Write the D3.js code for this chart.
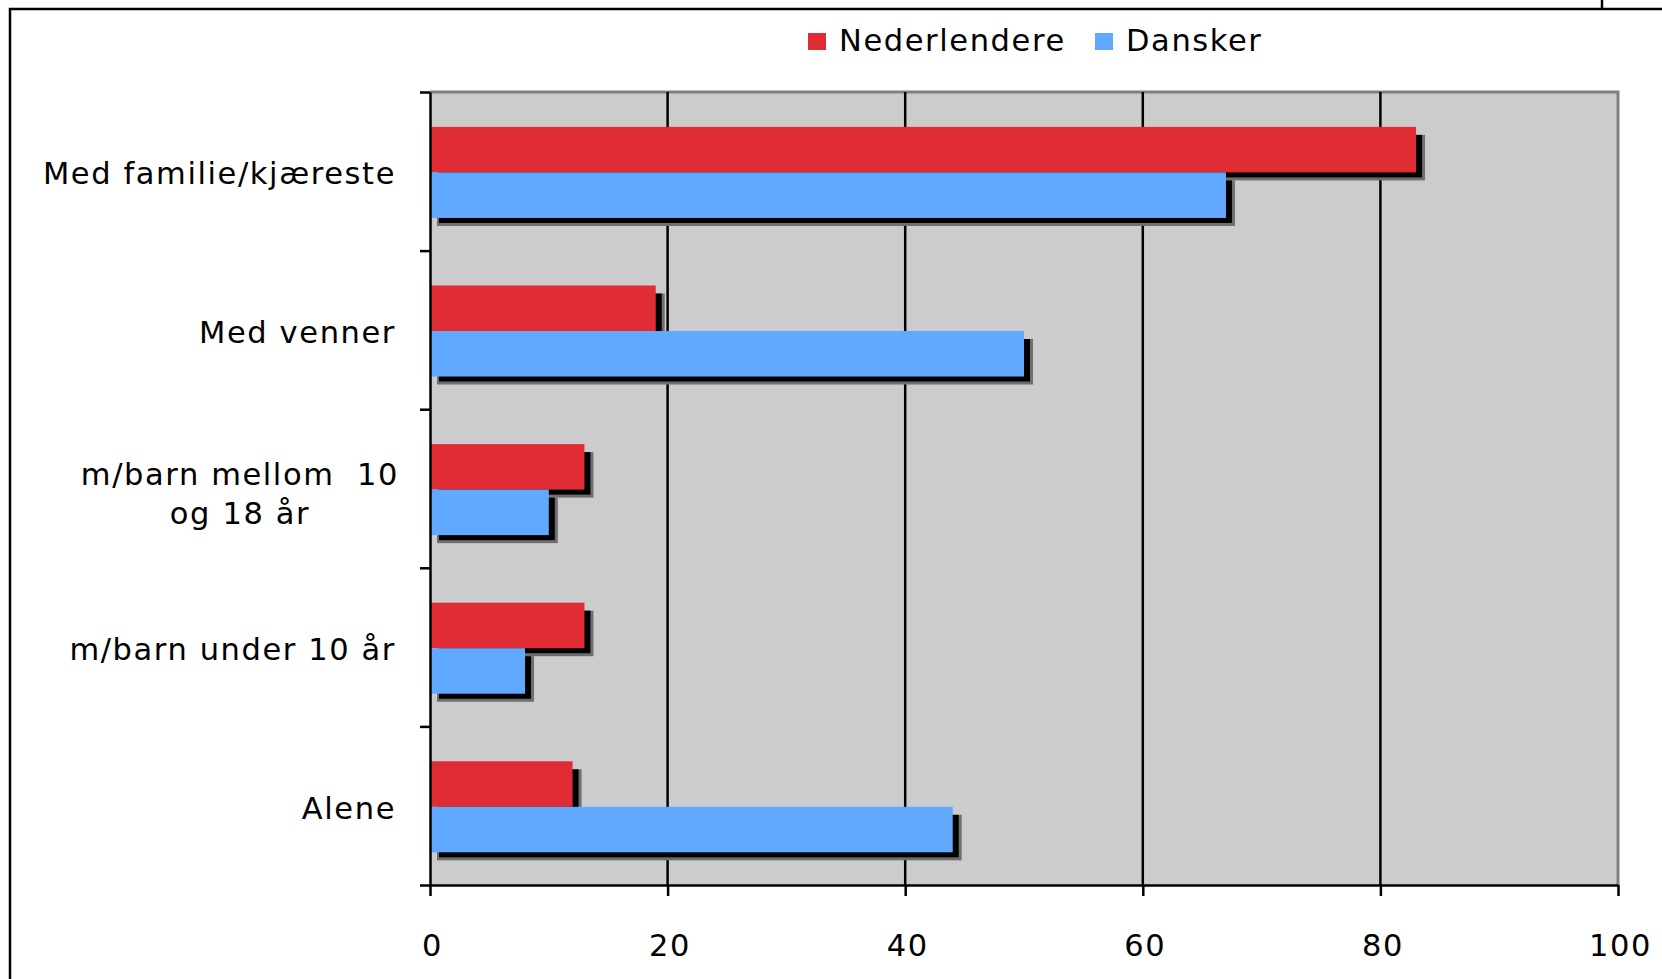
<!DOCTYPE html>
<html>
<head>
<meta charset="utf-8">
<script src="https://cdn.jsdelivr.net/npm/d3@7"></script>
<style>
  html, body { margin: 0; padding: 0; background: #fff; }
  svg { display: block; }
  text { font-family: "DejaVu Sans", Verdana, sans-serif; font-size: 30.5px; letter-spacing: 1.6px; fill: #000; }
</style>
</head>
<body>
<svg id="chart" width="1662" height="979"></svg>
<script>
// Who people travel with: share of respondents (%)
const categories = [
  "Med familie/kjæreste",
  "Med venner",
  "m/barn mellom  10\nog 18 år",
  "m/barn under 10 år",
  "Alene"
];
const seriesNames = ["Nederlendere", "Dansker"];
const nederlendere = [83, 19, 13, 13, 12];
const dansker = [67, 50, 10, 8, 44];
const xTicks = [0, 20, 40, 60, 80, 100];
const colors = ["#e02d35", "#61a8ff"];

const seriesValues = [nederlendere, dansker];

const svg = d3.select("#chart");

// outer frame
svg.append("path")
  .attr("d", "M10,985 L10,9 L1670,9")
  .attr("fill", "none").attr("stroke", "#000").attr("stroke-width", 2.5);
svg.append("line")
  .attr("x1", 1602).attr("x2", 1602).attr("y1", 0).attr("y2", 9)
  .attr("stroke", "#000").attr("stroke-width", 2.5);

const plot = { left: 430, right: 1618, top: 92, bottom: 885 };

const x = d3.scaleLinear().domain([0, 100]).range([plot.left, plot.right]);
const y = d3.scaleBand().domain(categories).range([plot.top, plot.bottom]).padding(0);
const bw = y.bandwidth();
const inner = d3.scaleBand().domain(seriesNames)
  .range([bw * 0.22, bw * 0.22 + bw * 0.574]).padding(0);
const bh = inner.bandwidth();

// plot background
svg.append("rect")
  .attr("x", plot.left).attr("y", plot.top)
  .attr("width", plot.right - plot.left).attr("height", plot.bottom - plot.top)
  .attr("fill", "#cccccc");
svg.append("path")
  .attr("d", `M${plot.left},${plot.top} L${plot.right},${plot.top} L${plot.right},${plot.bottom}`)
  .attr("fill", "none").attr("stroke", "#808080").attr("stroke-width", 3);

// vertical gridlines
svg.append("g").selectAll("line")
  .data(xTicks.filter(d => d > 0 && d < 100))
  .join("line")
  .attr("x1", d => x(d)).attr("x2", d => x(d))
  .attr("y1", plot.top).attr("y2", plot.bottom)
  .attr("stroke", "#000").attr("stroke-width", 2.5);

// bars with drop shadows
const barsG = svg.append("g");
categories.forEach((cat, ci) => {
  seriesNames.forEach((s, si) => {
    const v = seriesValues[si][ci];
    const bx = x(0);
    const by = y(cat) + inner(s);
    const w = x(v) - x(0);
    barsG.append("rect")
      .attr("x", bx + 7).attr("y", by + 8).attr("width", w + 2).attr("height", bh)
      .attr("fill", "#6e6e6e");
    barsG.append("rect")
      .attr("x", bx + 9).attr("y", by + 8).attr("width", w - 3).attr("height", bh - 3)
      .attr("fill", "#000");
    barsG.append("rect")
      .attr("x", bx).attr("y", by).attr("width", w).attr("height", bh)
      .attr("fill", colors[si]);
  });
});

// left axis: ticks at category boundaries
const yEdge = d3.scaleLinear().domain([0, categories.length]).range([plot.top, plot.bottom]);
const yAxis = svg.append("g")
  .attr("transform", `translate(${plot.left},0)`)
  .call(d3.axisLeft(yEdge).tickValues(d3.range(categories.length + 1)).tickSize(10).tickSizeOuter(0).tickFormat(""));
yAxis.select(".domain").attr("stroke", "#000").attr("stroke-width", 2.5);
yAxis.selectAll(".tick line").attr("stroke", "#000").attr("stroke-width", 2.5);

// bottom axis
const xAxis = svg.append("g")
  .attr("transform", `translate(0,${plot.bottom})`)
  .call(d3.axisBottom(x).tickValues(xTicks).tickSize(11).tickSizeOuter(0).tickFormat(d3.format("d")));
xAxis.select(".domain").attr("stroke", "#000").attr("stroke-width", 2.5);
xAxis.selectAll(".tick line").attr("stroke", "#000").attr("stroke-width", 2.5);
xAxis.selectAll(".tick text")
  .attr("y", 71).attr("dy", 0).attr("dx", 2)
  .style("font-size", "30.5px");
xAxis.attr("font-family", null).attr("font-size", null);

// category labels
const labelsG = svg.append("g");
categories.forEach(cat => {
  const lines = cat.split("\n");
  const cy = y(cat) + bw / 2;
  const multi = lines.length > 1;
  const t = labelsG.append("text")
    .attr("text-anchor", multi ? "middle" : "end")
    .style("white-space", "pre");
  lines.forEach((ln, i) => {
    t.append("tspan")
      .attr("x", multi ? 240 : 396)
      .attr("y", cy + 13 + (multi ? 3 : 0) + (i - (lines.length - 1) / 2) * 38.4)
      .text(ln);
  });
});

// legend
const legendX = [808, 1095];
const legend = svg.append("g");
seriesNames.forEach((s, i) => {
  legend.append("rect")
    .attr("x", legendX[i]).attr("y", 33).attr("width", 18).attr("height", 17)
    .attr("fill", colors[i]);
  legend.append("text")
    .attr("x", legendX[i] + 31).attr("y", 51)
    .text(s);
});
</script>
</body>
</html>
